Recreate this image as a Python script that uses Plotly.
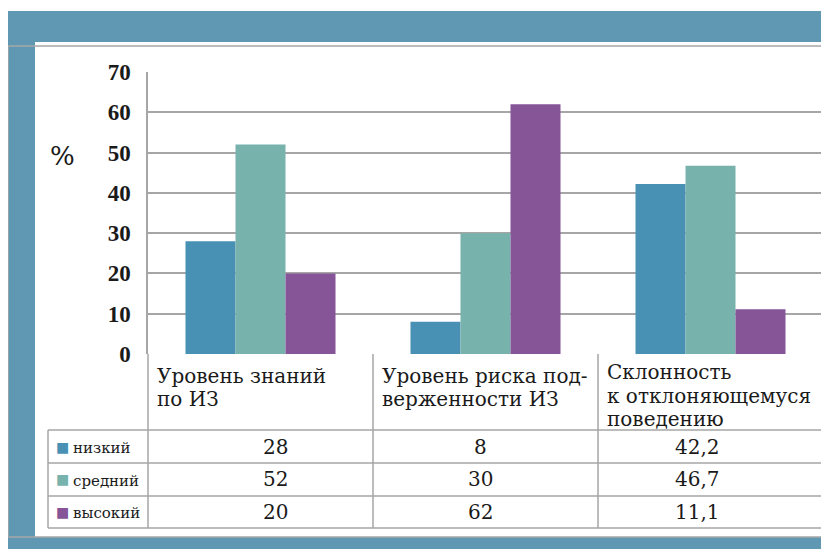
import plotly.graph_objects as go

categories = ["Уровень знаний<br>по ИЗ", "Уровень риска под-<br>верженности ИЗ",
              "Склонность<br>к отклоняющемуся<br>поведению"]
series_names = ["низкий", "средний", "высокий"]
low = [28, 8, 42.2]
mid = [52, 30, 46.7]
high = [20, 62, 11.1]
y_ticks = [0, 10, 20, 30, 40, 50, 60, 70]
y_title = "%"

colors = ["#4890B4", "#78B2AD", "#865597"]
band = "#6098B4"
grid = "#A6A6A6"
FONT = "DejaVu Serif"
TICKFONT = "Liberation Serif"
TXT = "#1a1a1a"

OFF = 8  # browser body margin
W, H = 829 - OFF, 549 - OFF
L, R, T, B = 148, 823, 72, 354  # page pixels
PW, PH = R - L, B - T


def px(x):
    return (x - L) / PW


def py(y):
    return (B - y) / PH


def fmt(v):
    return ("%g" % v).replace(".", ",")


fig = go.Figure()
keys = ["k0", "k1", "k2"]
for name, vals, c in zip(series_names, [low, mid, high], colors):
    fig.add_trace(go.Bar(name=name, x=keys, y=vals, marker=dict(color=c, line=dict(width=0))))

shapes = []
for (x0, y0, x1, y1) in [(8, 11, 829, 42), (8, 42, 35, 537), (8, 537, 829, 549)]:
    shapes.append(dict(type="rect", xref="paper", yref="paper", x0=px(x0), x1=px(x1),
                       y0=py(y0), y1=py(y1), fillcolor=band, line=dict(width=0), layer="below"))
shapes.append(dict(type="rect", xref="paper", yref="paper", x0=px(8), x1=px(835),
                   y0=py(46), y1=py(537), fillcolor="rgba(0,0,0,0)",
                   line=dict(color=grid, width=1.5), layer="below"))


def hline(x0, x1, y):
    shapes.append(dict(type="line", xref="paper", yref="paper", x0=px(x0), x1=px(x1),
                       y0=py(y), y1=py(y), line=dict(color=grid, width=1.5)))


def vline(x, y0, y1):
    shapes.append(dict(type="line", xref="paper", yref="paper", x0=px(x), x1=px(x),
                       y0=py(y0), y1=py(y1), line=dict(color=grid, width=1.5)))


row_y = [430, 463, 496, 528]
for y in row_y:
    hline(48, 823, y)
vline(48, 430, 528)
vline(148, 354, 528)
vline(373, 354, 528)
vline(598, 354, 528)
vline(823, 354, 528)

ann = []
# header cells, one annotation per line
line_first = [375.5, 375.5, 372]
line_step = [23, 23, 23.5]
for i, cat in enumerate(categories):
    for k, part in enumerate(cat.split("<br>")):
        ann.append(dict(text=part, xref="x", yref="paper", x=i - 0.5, xshift=8,
                        y=py(line_first[i] + k * line_step[i]),
                        xanchor="left", yanchor="middle", align="left", showarrow=False,
                        borderpad=0, font=dict(family=FONT, size=20, color=TXT)))
value_centers = [275, 480, 697]
for r, (name, vals, c) in enumerate(zip(series_names, [low, mid, high], colors)):
    yc = (row_y[r] + row_y[r + 1]) / 2
    ann.append(dict(text="■", xref="paper", yref="paper", x=px(54), y=py(yc), xanchor="left",
                    yanchor="middle", showarrow=False, font=dict(family=FONT, size=14, color=c)))
    ann.append(dict(text=name, xref="paper", yref="paper", x=px(71), y=py(yc + 1), xanchor="left",
                    yanchor="middle", showarrow=False, font=dict(family=FONT, size=15, color=TXT)))
    for i, v in enumerate(vals):
        ann.append(dict(text=fmt(v), xref="paper", yref="paper", x=px(value_centers[i]),
                        y=py(yc), xanchor="center", yanchor="middle", showarrow=False,
                        font=dict(family=FONT, size=20, color=TXT)))
ann.append(dict(text=y_title, xref="paper", yref="paper", x=px(62.5), y=py(156), xanchor="center",
                yanchor="middle", showarrow=False, font=dict(family=FONT, size=26, color=TXT)))

fig.update_layout(
    width=W, height=H,
    margin=dict(l=L - OFF, r=829 - R, t=T - OFF, b=549 - B),
    paper_bgcolor="white", plot_bgcolor="white",
    barmode="group", bargap=1 / 3, bargroupgap=0,
    showlegend=False,
    shapes=shapes, annotations=ann,
    xaxis=dict(showticklabels=False, showgrid=False, zeroline=False, showline=False,
               range=[-0.5, 2.5], fixedrange=True),
    yaxis=dict(range=[0, 70], tickvals=y_ticks, showgrid=True, gridcolor=grid, gridwidth=1.5,
               showline=True, linecolor=grid, linewidth=1.5, zeroline=False, ticks="",
               ticklabelstandoff=11,
               tickfont=dict(family=TICKFONT, size=23, color=TXT, weight="bold")),
)

fig.write_html("out.html")
